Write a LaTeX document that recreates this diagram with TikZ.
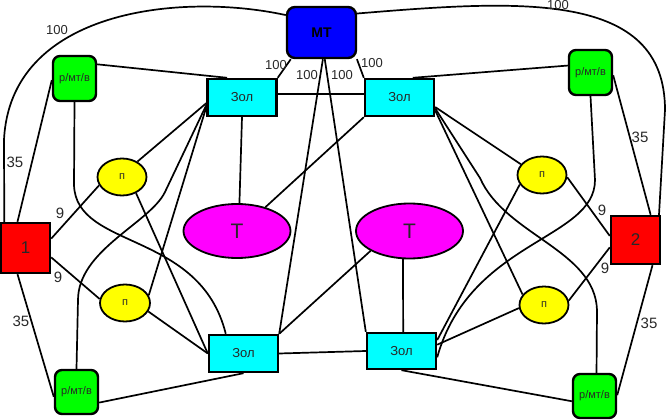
\documentclass[tikz,border=0pt]{standalone}
\usepackage{fontspec}
\setmainfont{Liberation Sans}
\usetikzlibrary{shapes.geometric,calc}
\pgfdeclarelayer{bg}
\pgfsetlayers{bg,main}
\definecolor{cbl}{RGB}{0,0,255}
\definecolor{ccy}{RGB}{0,255,255}
\definecolor{cgr}{RGB}{0,255,0}
\definecolor{crd}{RGB}{255,0,0}
\definecolor{cye}{RGB}{255,255,0}
\definecolor{cma}{RGB}{255,0,255}
\definecolor{ctx}{RGB}{40,40,40}
\begin{document}
\begin{tikzpicture}[x=1pt,y=-1pt,
  link/.style={line width=1.7pt, black},
  box/.style={draw=black, line width=2.4pt, inner sep=0pt, text=ctx},
  mtbox/.style={box, fill=cbl, rounded corners=8pt, minimum width=69pt, minimum height=51pt, font=\fontsize{14}{14}\selectfont\bfseries, text=black},
  zol/.style={box, fill=ccy, minimum width=69pt, minimum height=37pt, font=\fontsize{13}{13}\selectfont},
  rmv/.style={box, fill=cgr, rounded corners=7pt, minimum width=43pt, minimum height=45pt, font=\fontsize{11}{11}\selectfont},
  sq/.style={box, fill=crd, minimum width=49pt, minimum height=49pt, font=\fontsize{17}{17}\selectfont},
  pn/.style={ellipse, draw=black, line width=1.8pt, fill=cye, inner sep=0pt, minimum width=49pt, minimum height=37pt, font=\fontsize{11}{11}\selectfont, text=ctx},
  tn/.style={ellipse, draw=black, line width=1.8pt, fill=cma, inner sep=0pt, minimum width=107pt, minimum height=55pt, font=\fontsize{21}{21}\selectfont, text=ctx},
  lbl/.style={inner sep=0pt, text=ctx, font=\fontsize{13}{13}\selectfont},
  lblb/.style={lbl, font=\fontsize{15}{15}\selectfont}
]
\useasboundingbox (0,0) rectangle (670,420);

% nodes
\node[mtbox] (MT) at (321.5,32.5) {МТ};
\node[zol] (ZTL) at (242,97.5) {Зол};
\node[zol] (ZTR) at (399.5,97.5) {Зол};
\node[zol] (ZBL) at (243.5,353.5) {Зол};
\node[zol, minimum height=36pt] (ZBR) at (401.5,351) {Зол};
\node[rmv] (GTL) at (74.5,78.5) {р/мт/в};
\node[rmv] (GTR) at (590.5,72.5) {р/мт/в};
\node[rmv, minimum height=44pt] (GBL) at (76.5,392) {р/мт/в};
\node[rmv, minimum height=44pt] (GBR) at (594.5,396) {р/мт/в};
\node[sq, minimum height=50pt] (R1) at (25.5,248) {1};
\node[sq, minimum height=48pt] (R2) at (635.5,240) {2};
\node[pn] (PTL) at (122,177) {п};
\node[pn, minimum width=50pt] (PBL) at (125,303) {п};
\node[pn] (PTR) at (542,175) {п};
\node[pn] (PBR) at (544,305) {п};
\node[tn, minimum height=54pt] (TL) at (237,231) {Т};
\node[tn] (TR) at (409.5,231) {Т};

\begin{pgfonlayer}{bg}
% MT
\draw[link] (MT.154) .. controls (180,-8) and (10,10) .. (4,140) -- (R1.129);
\draw[link] (MT.28) .. controls (520,0) and (665,-10) .. (665,110) -- (R2.47);
\draw[link] (MT.221) -- (ZTL.north east);
\draw[link] (MT.323) -- (ZTR.north west);
\draw[link] (MT.273) -- (ZBL.north east);
\draw[link] (MT.277) -- (ZBR.north west);
% Zol - Zol
\draw[link] (ZTL.6) -- (ZTR.174);
\draw[link] (ZBL.east) -- (ZBR.west);
% green - Zol
\draw[link] (GTL.32) -- (ZTL.127);
\draw[link] (GTR.163) -- (ZTR.56);
\draw[link] (GBL.335) -- (ZBL.south);
\draw[link] (GBR.193) -- (ZBR.south);
% T
\draw[link] (ZTL.south) -- (TL.85);
\draw[link] (TR.257) -- (ZBR.85);
\draw[link] (ZTR.south west) -- (TL.40);
\draw[link] (TR.207) -- (ZBL.north east);
% left side
\draw[link] (ZTL.189) -- (PTL.45);
\draw[link] (ZTL.195) -- (PBL.18);
\draw[link] (ZTL.192) -- (165,192) .. controls (150,223) and (78,250) .. (78,300) -- (GBL.north);
\draw[link] (GTL.south) -- (74,185) .. controls (76,250) and (200,230) .. (ZBL.132);
\draw[link] (PTL.311) -- (ZBL.west);
\draw[link] (PBL.340) -- (ZBL.west);
\draw[link] (R1.20) -- (PTL.200);
\draw[link] (R1.340) -- (PBL.171);
\draw[link] (R1.107) -- (GTL.184);
\draw[link] (R1.253) -- (GBL.192);
% right side
\draw[link] (ZTR.345) -- (PTR.153);
\draw[link] (ZTR.340) -- (PBR.154);
\draw[link] (ZTR.343) -- (480,178) .. controls (505,235) and (595,250) .. (597,310) -- (GBR.85);
\draw[link] (GTR.south) -- (595,180) .. controls (595,240) and (470,240) .. (ZBR.350);
\draw[link] (PTR.203) -- (ZBR.17);
\draw[link] (PBR.187) -- (ZBR.10);
\draw[link] (R2.171) -- (PTR.355);
\draw[link] (R2.196) -- (PBR.10);
\draw[link] (R2.59) -- (GTR.353);
\draw[link] (R2.304) -- (GBR.2);
\end{pgfonlayer}

% labels
\node[lbl] (l1) at (57,30) {100};
\node[lblb] (l2) at (15,162) {35};
\node[lblb] (l3) at (60,213) {9};
\node[lblb] (l4) at (58,277) {9};
\node[lblb] (l5) at (21,321) {35};
\node[lbl] (l6) at (276,65) {100};
\node[lbl] (l7) at (307,75) {100};
\node[lbl] (l8) at (342,75) {100};
\node[lbl] (l9) at (372,63) {100};
\node[lbl] (l10) at (558,5) {100};
\node[lblb] (l11) at (640,137) {35};
\node[lblb] (l12) at (602,210) {9};
\node[lblb] (l13) at (605,268) {9};
\node[lblb] (l14) at (649,323) {35};
\end{tikzpicture}
\end{document}
